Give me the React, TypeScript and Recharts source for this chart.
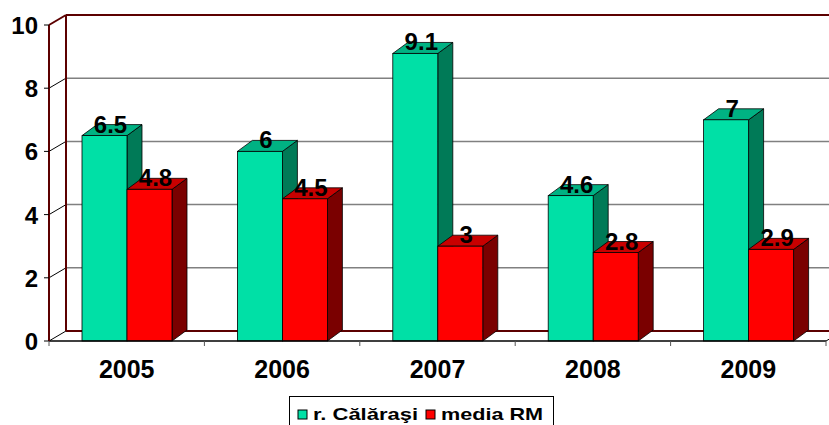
import React from "react";
import {
  BarChart,
  Bar,
  XAxis,
  YAxis,
  CartesianGrid,
  LabelList,
  Legend,
} from "recharts";

const categories = ["2005", "2006", "2007", "2008", "2009"];
const calarasiValues = [6.5, 6, 9.1, 4.6, 7];
const mediaRmValues = [4.8, 4.5, 3, 2.8, 2.9];
const yTicks = [0, 2, 4, 6, 8, 10];
const seriesNames = ["r. Călăraşi", "media RM"];

const data = categories.map((year, i) => ({
  year,
  calarasi: calarasiValues[i],
  media: mediaRmValues[i],
}));

// layout
const W = 829;
const H = 425;
const PLOT_LEFT = 49;
const PLOT_RIGHT = 826;
const PLOT_TOP = 25;
const PLOT_BOTTOM = 341;
const WALL_DX = 17;
const WALL_DY = -10;
const BAR_DX = 15;
const BAR_DY = -11;
const FONT = '"Liberation Sans", Arial, sans-serif';
const MAROON = "#5c0000";

const GREEN = { front: "#00E0A6", top: "#00B283", side: "#007A57" };
const RED = { front: "#FF0000", top: "#C80000", side: "#7A0000" };

function Bar3D(props: any) {
  const { x, y, width, height, colors } = props;
  if (height == null || width == null) return null;
  const w = width;
  const h = height;
  const top = `${x},${y} ${x + BAR_DX},${y + BAR_DY} ${x + w + BAR_DX},${y + BAR_DY} ${x + w},${y}`;
  const side = `${x + w},${y} ${x + w + BAR_DX},${y + BAR_DY} ${x + w + BAR_DX},${y + h + BAR_DY} ${x + w},${y + h}`;
  return (
    <g>
      <polygon points={side} fill={colors.side} stroke="#000" strokeWidth={0.8} />
      <polygon points={top} fill={colors.top} stroke="#000" strokeWidth={0.8} />
      <rect x={x} y={y} width={w} height={h} fill={colors.front} stroke="#000" strokeWidth={0.8} />
    </g>
  );
}

function BarLabel(props: any) {
  const { x, y, width, value } = props;
  return (
    <text
      x={x + width / 2 + 6}
      y={y - 3}
      textAnchor="middle"
      fontFamily={FONT}
      fontWeight="bold"
      fontSize={24}
      fill="#000"
    >
      {value}
    </text>
  );
}

function GridLine(props: any) {
  const { x1, y1, x2 } = props;
  const isTop = Math.abs(y1 - PLOT_TOP) < 1;
  const isBottom = Math.abs(y1 - PLOT_BOTTOM) < 1;
  const bx1 = x1 + WALL_DX;
  const bx2 = x2 + WALL_DX + 20;
  const by = y1 + WALL_DY;
  if (isTop) {
    return (
      <g>
        <line x1={x1} y1={y1} x2={bx1} y2={by} stroke={MAROON} strokeWidth={2} />
        <line x1={bx1} y1={by} x2={bx2} y2={by} stroke={MAROON} strokeWidth={2} />
        <line x1={bx1} y1={by} x2={bx1} y2={PLOT_BOTTOM + WALL_DY} stroke={MAROON} strokeWidth={2} />
      </g>
    );
  }
  if (isBottom) {
    return (
      <g>
        <line x1={bx1} y1={by} x2={bx2} y2={by} stroke={MAROON} strokeWidth={2} />
        <line x1={x1} y1={y1} x2={bx1} y2={by} stroke="#000" strokeWidth={1} />
        <line x1={x2} y1={y1} x2={x2 + WALL_DX} y2={by} stroke="#000" strokeWidth={1} />
      </g>
    );
  }
  return (
    <g>
      <line x1={x1} y1={y1} x2={bx1} y2={by} stroke="#000" strokeWidth={1} />
      <line x1={bx1} y1={by} x2={bx2} y2={by} stroke="#808080" strokeWidth={1.5} />
    </g>
  );
}

function YTick(props: any) {
  const { x, y, payload } = props;
  return (
    <text
      x={x}
      y={y + 9}
      textAnchor="end"
      fontFamily={FONT}
      fontWeight="bold"
      fontSize={24}
      fill="#000"
    >
      {payload.value}
    </text>
  );
}

function XTick(props: any) {
  const { x, payload, index } = props;
  const band = (PLOT_RIGHT - PLOT_LEFT) / categories.length;
  return (
    <g>
      <line x1={x - band / 2} y1={PLOT_BOTTOM} x2={x - band / 2} y2={PLOT_BOTTOM + 5} stroke="#555" />
      {index === categories.length - 1 && (
        <line x1={x + band / 2} y1={PLOT_BOTTOM} x2={x + band / 2} y2={PLOT_BOTTOM + 5} stroke="#555" />
      )}
      <text
        x={x}
        y={PLOT_BOTTOM + 37}
        textAnchor="middle"
        fontFamily={FONT}
        fontWeight="bold"
        fontSize={25}
        fill="#000"
      >
        {payload.value}
      </text>
    </g>
  );
}

function LegendBox(props: any) {
  const payload: any[] = props.payload || [];
  const colors = [GREEN.front, RED.front];
  const itemX = [9, 137];
  const textLen = [105, 102];
  return (
    <svg width={266} height={40} style={{ display: "block" }}>
      <rect x={0.5} y={0.5} width={264} height={38} fill="#fff" stroke="#000" strokeWidth={1} />
      {seriesNames.map((name, i) => {
        const entry = payload.find((p) => p.value === name);
        return (
          <g key={name}>
            <rect
              x={itemX[i]}
              y={14}
              width={9}
              height={9}
              fill={entry?.color || colors[i]}
              stroke="#000"
              strokeWidth={1}
            />
            <text
              x={itemX[i] + 15}
              y={24}
              fontFamily={FONT}
              fontWeight="bold"
              fontSize={17}
              textLength={textLen[i]}
              lengthAdjust="spacingAndGlyphs"
              fill="#000"
            >
              {name}
            </text>
          </g>
        );
      })}
    </svg>
  );
}

export default function App() {
  return (
    <div style={{ position: "absolute", left: 0, top: 0, width: W, height: H, background: "#fff" }}>
      <BarChart
        width={W}
        height={H}
        data={data}
        margin={{ top: PLOT_TOP, right: W - PLOT_RIGHT, left: 0, bottom: H - PLOT_BOTTOM - 30 }}
        barGap={0}
        barSize={45}
      >
        <CartesianGrid vertical={false} horizontal={(p: any) => <GridLine {...p} />} />
        <XAxis
          dataKey="year"
          height={30}
          axisLine={{ stroke: "#000", strokeWidth: 1.5 }}
          tickLine={false}
          tick={<XTick />}
          interval={0}
        />
        <YAxis
          width={PLOT_LEFT}
          domain={[0, 10]}
          ticks={yTicks}
          axisLine={{ stroke: MAROON, strokeWidth: 2 }}
          tickLine={{ stroke: "#000" }}
          tickSize={5}
          tickMargin={6}
          tick={<YTick />}
        />
        <Bar
          dataKey="calarasi"
          name={seriesNames[0]}
          fill={GREEN.front}
          isAnimationActive={false}
          shape={(p: any) => <Bar3D {...p} colors={GREEN} />}
        >
          <LabelList dataKey="calarasi" content={<BarLabel />} />
        </Bar>
        <Bar
          dataKey="media"
          name={seriesNames[1]}
          fill={RED.front}
          isAnimationActive={false}
          shape={(p: any) => <Bar3D {...p} colors={RED} />}
        >
          <LabelList dataKey="media" content={<BarLabel />} />
        </Bar>
        <Legend
          layout="horizontal"
          verticalAlign="middle"
          align="center"
          wrapperStyle={{ left: 289, top: 396, width: 266, height: 40 }}
          content={<LegendBox />}
        />
      </BarChart>
    </div>
  );
}
